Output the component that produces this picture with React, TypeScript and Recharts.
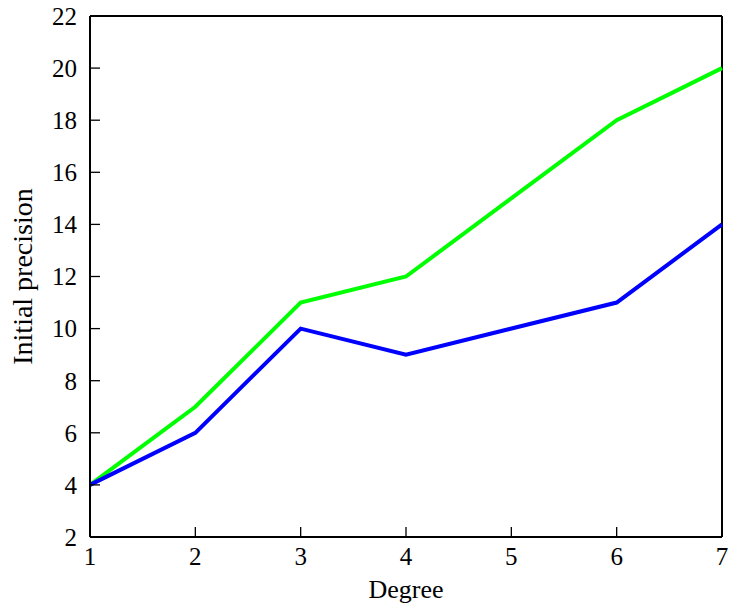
import { LineChart, Line, XAxis, YAxis, ReferenceLine } from "recharts"

const degrees = [1, 2, 3, 4, 6, 7]
const greenValues = [4, 7, 11, 12, 18, 20]
const blueValues = [4, 6, 10, 9, 11, 14]
const xTicks = [1, 2, 3, 4, 5, 6, 7]
const yTicks = [2, 4, 6, 8, 10, 12, 14, 16, 18, 20, 22]

const data = degrees.map((d, i) => ({ degree: d, green: greenValues[i], blue: blueValues[i] }))

const family = "'Liberation Serif', 'DejaVu Serif', serif"
const tickFont = { fontFamily: family, fontSize: 25, fill: "#000" }
const xLabelFont = { fontFamily: family, fontSize: 26, fill: "#000" }
const yLabelFont = { fontFamily: family, fontSize: 28, fill: "#000" }

export default function App() {
  return (
    <div style={{ position: "absolute", left: 0, top: 0, background: "#fff" }}>
      <LineChart width={730} height={603} data={data} margin={{ top: 16, right: 8, bottom: 0, left: 0 }}>
        <XAxis
          dataKey="degree"
          type="number"
          domain={[1, 7]}
          ticks={xTicks}
          height={66}
          tickSize={-10}
          tickMargin={20}
          fontSize={25}
          fontFamily={family}
          tick={{ ...tickFont, style: tickFont }}
          axisLine={{ stroke: "#000", strokeWidth: 2 }}
          tickLine={{ stroke: "#000", strokeWidth: 1.3 }}
          label={{ value: "Degree", position: "insideBottom", offset: 5, fontSize: 26, fontFamily: family, fill: "#000", style: xLabelFont }}
        />
        <YAxis
          type="number"
          domain={[2, 22]}
          ticks={yTicks}
          width={90}
          tickSize={-10}
          tickMargin={23}
          fontSize={25}
          fontFamily={family}
          tick={{ ...tickFont, style: tickFont }}
          axisLine={{ stroke: "#000", strokeWidth: 2 }}
          tickLine={{ stroke: "#000", strokeWidth: 1.3 }}
          label={{ value: "Initial precision", angle: -90, position: "insideLeft", offset: 22, fontSize: 28, fontFamily: family, fill: "#000", style: { ...yLabelFont, textAnchor: "middle" } }}
        />
        <ReferenceLine y={22} stroke="#000" strokeWidth={2} ifOverflow="visible" />
        <ReferenceLine x={7} stroke="#000" strokeWidth={2} ifOverflow="visible" />
        <Line dataKey="green" stroke="#00ff00" strokeWidth={4} dot={false} isAnimationActive={false} />
        <Line dataKey="blue" stroke="#0000ff" strokeWidth={4} dot={false} isAnimationActive={false} />
      </LineChart>
    </div>
  )
}
